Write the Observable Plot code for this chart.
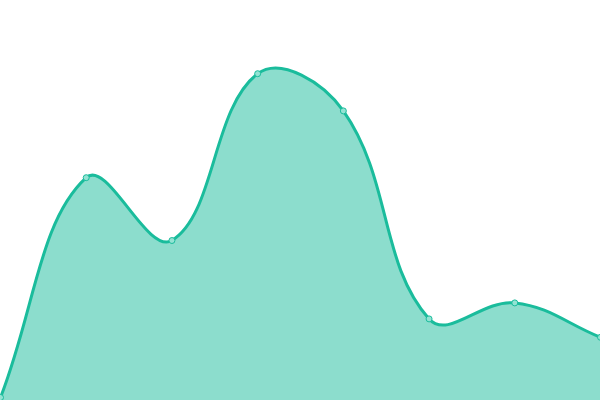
<!DOCTYPE html>
<html>
<head>
<meta charset="utf-8">
<script src="https://cdn.jsdelivr.net/npm/d3@7"></script>
<script src="https://cdn.jsdelivr.net/npm/@observablehq/plot@0.6"></script>
<style>
  html, body { margin: 0; padding: 0; background: #fff; }
  #chart svg { display: block; }
</style>
</head>
<body>
<div id="chart"></div>
<script>
const categories = [0, 1, 2, 3, 4, 5, 6, 7];
const values = [0.75, 55.7, 40, 81.7, 72.4, 20.4, 24.4, 15.8];

const data = categories.map((c, i) => ({x: c, y: values[i]}));

// Distance-weighted spline (tension 0.4), control points capped to the plot area.
function splineCurve(tension, W, H) {
  function Curve(context) { this._context = context; }
  Curve.prototype = {
    areaStart() { this._line = 0; },
    areaEnd() { this._line = NaN; },
    lineStart() { this._pts = []; },
    point(x, y) { this._pts.push([+x, +y]); },
    lineEnd() {
      const p = this._pts, n = p.length, ctx = this._context;
      if (n) {
        this._line ? ctx.lineTo(p[0][0], p[0][1]) : ctx.moveTo(p[0][0], p[0][1]);
        const cap = (v, lo, hi) => Math.max(lo, Math.min(hi, v));
        const cps = p.map((cur, i) => {
          const prev = p[i - 1] || cur, next = p[i + 1] || cur;
          const d01 = Math.hypot(cur[0] - prev[0], cur[1] - prev[1]);
          const d12 = Math.hypot(next[0] - cur[0], next[1] - cur[1]);
          let s01 = d01 / (d01 + d12), s12 = d12 / (d01 + d12);
          if (!isFinite(s01)) s01 = 0;
          if (!isFinite(s12)) s12 = 0;
          const fa = tension * s01, fb = tension * s12;
          return {
            prev: [cap(cur[0] - fa * (next[0] - prev[0]), 0, W), cap(cur[1] - fa * (next[1] - prev[1]), 0, H)],
            next: [cap(cur[0] + fb * (next[0] - prev[0]), 0, W), cap(cur[1] + fb * (next[1] - prev[1]), 0, H)]
          };
        });
        for (let i = 1; i < n; ++i) {
          const a = cps[i - 1].next, b = cps[i].prev;
          ctx.bezierCurveTo(a[0], a[1], b[0], b[1], p[i][0], p[i][1]);
        }
      }
      if (this._line || (this._line !== 0 && n === 1)) ctx.closePath();
      this._line = 1 - this._line;
    }
  };
  return (context) => new Curve(context);
}

const W = 600, H = 400;
const curve = splineCurve(0.4, W, H);

const chart = Plot.plot({
  width: W,
  height: H,
  margin: 0,
  x: {domain: [0, 7], axis: null},
  y: {domain: [0, 100], axis: null},
  marks: [
    Plot.areaY(data, {x: "x", y: "y", curve, fill: "#1abc9c", fillOpacity: 0.5}),
    Plot.line(data, {x: "x", y: "y", curve, stroke: "#1abc9c", strokeWidth: 3}),
    Plot.dot(data, {x: "x", y: "y", r: 3, fill: "#93e3d3", stroke: "#1abc9c", strokeWidth: 1})
  ]
});
document.getElementById("chart").appendChild(chart);
</script>
</body>
</html>
